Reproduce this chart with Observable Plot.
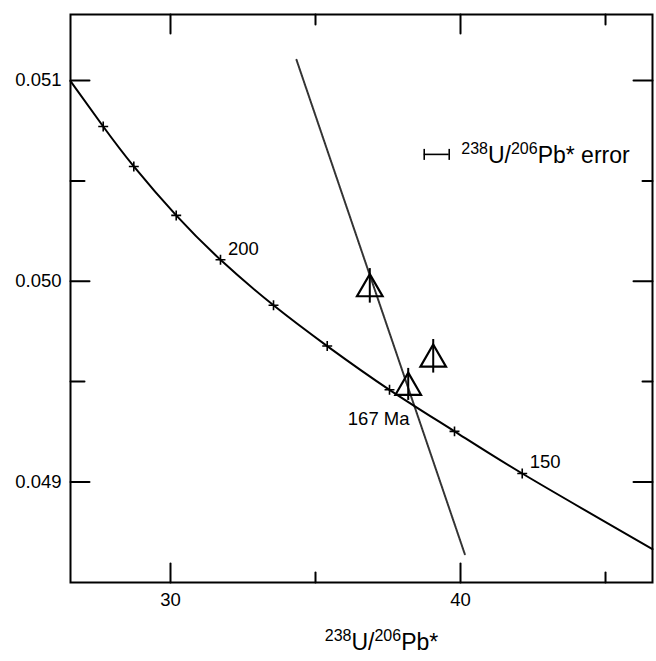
<!DOCTYPE html>
<html><head><meta charset="utf-8">
<script src="https://cdn.jsdelivr.net/npm/d3@7"></script>
<script src="https://cdn.jsdelivr.net/npm/@observablehq/plot@0.6"></script>
<style>
body{margin:0;background:#fff;}
#chart svg{font-family:"Liberation Sans",Arial,Helvetica,sans-serif;background:#fff;}
</style></head><body><div id="chart"></div>
<script>
// Concordia age marks (Ma)
const ages = [230, 220, 210, 200, 190, 180, 170, 160, 150];
const markerX = [27.68, 28.735, 30.197, 31.724, 33.552, 35.404, 37.552, 39.793, 42.128];
const markerY = [0.050771, 0.050572, 0.050328, 0.050107, 0.04988, 0.049677, 0.049459, 0.049252, 0.049042];
// Concordia curve points (ends at the frame + age marks)
const curveX = [26.552, ...markerX, 46.62];
const curveY = [0.050997, ...markerY, 0.048665];
// Discordia line
const discX = [34.345, 40.149];
const discY = [0.051103, 0.04864];
// Analyses (triangles) with 207Pb/206Pb error half-widths
const sampleX = [36.872, 39.059, 38.197];
const sampleY = [0.049977, 0.049626, 0.049486];
const sampleErr = [0.0000861, 0.0000836, 0.0000797];
// Intercept age
const interceptAge = "167 Ma";
const interceptX = 38.397;
const interceptY = 0.049381;
// 238U/206Pb error scale bar
const errBarX = [38.749, 39.611];
const errBarY = 0.050632;
const errLabel = "^{238}U/^{206}Pb* error";
const xLabel = "^{238}U/^{206}Pb*";
// Ticks
const xMajor = [30, 40];
const xMinor = [35, 45];
const yMajor = [0.049, 0.050, 0.051];
const yMinor = [0.0495, 0.0505];
const labeledAges = [200, 150];

const markers = ages.map((a, i) => ({age: a, x: markerX[i], y: markerY[i]}));
const curve = curveX.map((x, i) => ({x, y: curveY[i]}));
const disc = discX.map((x, i) => ({x, y: discY[i]}));
const samples = sampleX.map((x, i) => ({x, y: sampleY[i], e: sampleErr[i]}));
const vbar = {draw(ctx, size) { const r = Math.sqrt(size / Math.PI); ctx.moveTo(0, -r); ctx.lineTo(0, r); }};
const tickShape = {draw(ctx, l) { ctx.moveTo(0, 0); ctx.lineTo(0, -l); }};

// inward tick helper (vector from the frame edge, pointing inward)
function inTicks(values, side, len) {
  const horiz = side === "bottom" || side === "top";
  const rot = {bottom: 0, top: 180, left: 90, right: -90}[side];
  return Plot.vector(values, {
    ...(horiz ? {x: d => d} : {y: d => d}),
    frameAnchor: side, length: len, rotate: rot, anchor: "start",
    shape: tickShape, stroke: "black", strokeWidth: 2
  });
}

const chart = Plot.plot({
  width: 656, height: 661,
  marginLeft: 70, marginRight: 4, marginTop: 14, marginBottom: 79,
  x: {domain: [26.552, 46.62], label: null},
  y: {domain: [0.048499, 0.051329], label: null},
  style: {fontFamily: "Liberation Sans, Arial, Helvetica, sans-serif", color: "black", background: "white"},
  marks: [
    inTicks(xMajor, "bottom", 19), inTicks(xMinor, "bottom", 10),
    inTicks(xMajor, "top", 19), inTicks(xMinor, "top", 10),
    inTicks(yMajor, "left", 19), inTicks(yMinor, "left", 14),
    inTicks(yMajor, "right", 19), inTicks(yMinor, "right", 10),
    // tick labels
    Plot.axisX(xMajor, {anchor: "bottom", tickSize: 0, tickPadding: 10, fontSize: 18.5, label: null}),
    Plot.axisY(yMajor, {anchor: "left", tickSize: 0, tickPadding: 9, fontSize: 18.5, tickFormat: d3.format(".3f"), label: null}),
    Plot.frame({stroke: "black", strokeWidth: 2}),
    // discordia
    Plot.line(disc, {x: "x", y: "y", stroke: "#333", strokeWidth: 2, strokeDasharray: "1.4,0.9"}),
    // concordia
    Plot.line(curve, {x: "x", y: "y", curve: "natural", stroke: "black", strokeWidth: 2}),
    Plot.dot(markers, {x: "x", y: "y", symbol: "plus", r: 3.3, stroke: "black", strokeWidth: 1.6}),
    Plot.text(markers.filter(d => labeledAges.includes(d.age)), {x: "x", y: "y", text: d => String(d.age), dx: 7.5, dy: -11, textAnchor: "start", fontSize: 18.5}),
    Plot.text([interceptAge], {x: () => interceptX, y: () => interceptY, text: d => d, dx: -4.5, dy: 14, textAnchor: "end", fontSize: 18.5}),
    // analyses
    Plot.ruleX(samples, {x: "x", y1: d => d.y - d.e, y2: d => d.y + d.e, stroke: "black", strokeWidth: 2}),
    Plot.dot(samples, {x: "x", y: "y", symbol: "triangle", r: 9.5, fill: "none", stroke: "black", strokeWidth: 2.2, dy: 3}),
    // error scale bar legend
    Plot.ruleY([errBarY], {x1: errBarX[0], x2: errBarX[1], y: d => d, stroke: "black", strokeWidth: 1.6}),
    Plot.dot(errBarX, {x: d => d, y: () => errBarY, symbol: vbar, r: 5.5, fill: "none", stroke: "black", strokeWidth: 1.6}),
    Plot.text([errLabel], {x: () => errBarX[1], y: () => errBarY, text: d => d, dx: 12, dy: 1, textAnchor: "start", fontSize: 23}),
    // x axis title
    Plot.text([xLabel], {frameAnchor: "bottom", text: d => d, dx: 20, dy: 67, textAnchor: "middle", fontSize: 23})
  ]
});

// superscripts
chart.querySelectorAll("text").forEach(t => {
  const s = t.textContent;
  if (!s.includes("^{")) return;
  t.textContent = "";
  const parts = s.split(/\^\{([^}]*)\}/);
  let up = false;
  parts.forEach((p, i) => {
    if (!p) return;
    const ts = document.createElementNS("http://www.w3.org/2000/svg", "tspan");
    ts.textContent = p;
    const sup = i % 2 === 1;
    if (sup) {
      ts.setAttribute("font-size", "16");
      if (!up) ts.setAttribute("dy", "-9");
      up = true;
    } else {
      if (up) ts.setAttribute("dy", "9");
      up = false;
    }
    t.appendChild(ts);
  });
});

document.getElementById("chart").appendChild(chart);
</script>
</body></html>
